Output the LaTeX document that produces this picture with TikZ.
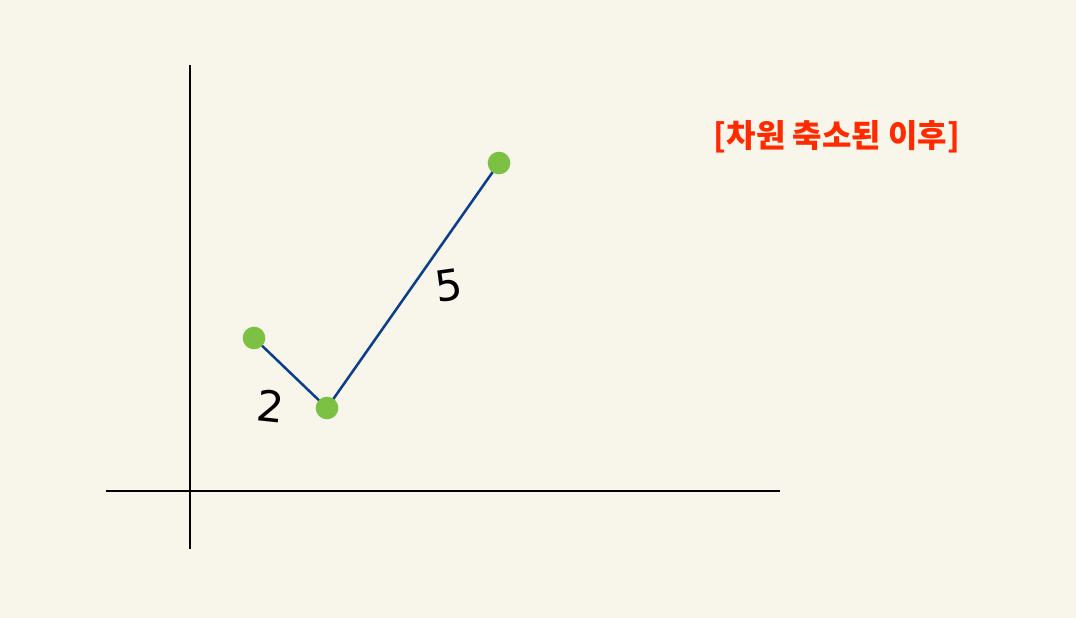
\documentclass[tikz,border=0pt]{standalone}
\usepackage{fontspec}
\newfontfamily\kr{Noto Sans CJK KR}
\newfontfamily\hand{DejaVu Sans}
\definecolor{bg}{HTML}{F8F6EA}
\definecolor{ptgreen}{HTML}{7CC143}
\definecolor{lineblue}{HTML}{0B3F8C}
\definecolor{lblred}{HTML}{FF2A00}
\begin{document}
\begin{tikzpicture}[x=0.75pt,y=-0.75pt,
  axis/.style={line width=2.2pt,black},
  seg/.style={line width=1.9pt,lineblue},
  pt/.style={circle,fill=ptgreen,minimum size=17pt,inner sep=0pt},
  hw/.style={font=\hand\fontsize{32}{32}\selectfont,text=black,inner sep=0pt}]
\fill[bg] (0,0) rectangle (1076,618);
\useasboundingbox (0,0) rectangle (1076,618);
\coordinate (vt) at (190,65);
\coordinate (vb) at (190,549);
\coordinate (hl) at (106,491);
\coordinate (hr) at (780,491);
\draw[axis] (vt) -- (vb);
\draw[axis] (hl) -- (hr);
\coordinate (a) at (254,338);
\coordinate (b) at (327,408);
\coordinate (c) at (499,163);
\draw[seg] (a) -- (b) -- (c);
\node[pt] (pa) at (a) {};
\node[pt] (pb) at (b) {};
\node[pt] (pc) at (c) {};
\node[hw,rotate=-6] (l2) at (271,406) {2};
\node[hw,rotate=8] (l5) at (449,286) {5};
\node[font=\kr\bfseries\fontsize{24}{24}\selectfont,text=lblred] (lbl) at (837,137) {[차원 축소된 이후]};
\end{tikzpicture}
\end{document}
